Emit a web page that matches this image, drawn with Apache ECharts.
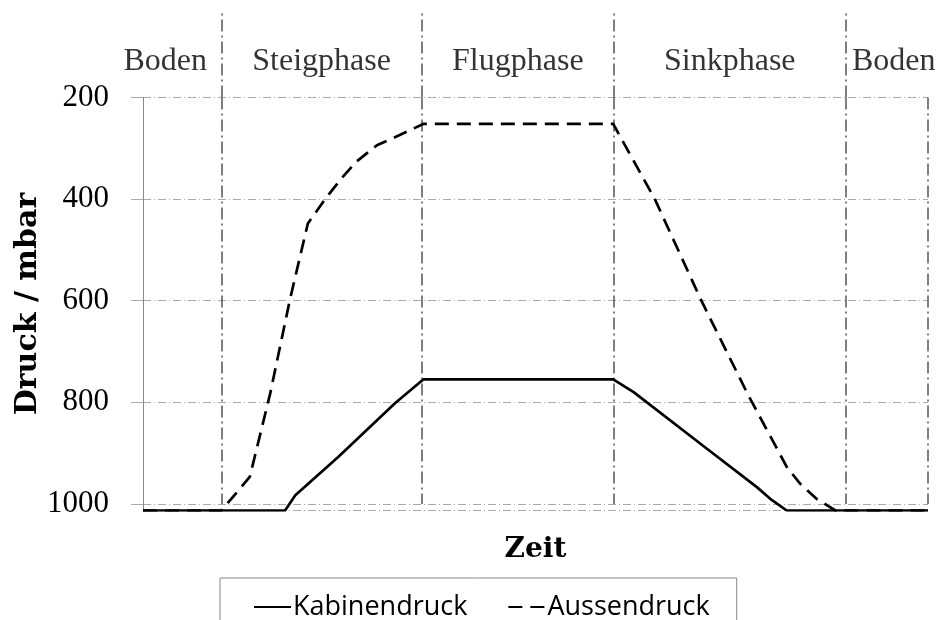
<!DOCTYPE html>
<html>
<head>
<meta charset="utf-8">
<script src="https://cdn.jsdelivr.net/npm/echarts@6/dist/echarts.min.js"></script>
<style>
  html, body { margin: 0; padding: 0; background: #fff; }
  #chart { width: 940px; height: 620px; }
</style>
</head>
<body>
<div id="chart"></div>
<script>
// Zeitachse (willkuerliche Einheiten 0..100)
var timeKabine  = [0, 18.1, 19.4, 24.9, 32.1, 35.7, 59.9, 62.5, 71.8, 78.2, 79.9, 82.0, 100];
var druckKabine = [1013, 1013, 983, 907, 802, 755, 755, 780, 891, 967, 990, 1013, 1013];

var timeAussen  = [0, 10.0, 13.6, 16.2, 18.7, 21.0, 23.2, 25.3, 27.2, 29.8, 32.7, 35.7, 59.9, 65.2, 71.1, 77.1, 80.3, 82.0, 83.7, 85.8, 88.2, 100];
var druckAussen = [1013, 1013, 947, 783, 599, 448, 400, 359, 326, 294, 274, 252, 252, 400, 599, 786, 878, 927, 960, 990, 1013, 1013];

// Phasen
var phaseNames  = ['Boden', 'Steigphase', 'Flugphase', 'Sinkphase', 'Boden'];
var phaseBounds = [10, 35.5, 60, 89.5];

var yTicks = [200, 400, 600, 800, 1000];

var zip = function (xs, ys) { return xs.map(function (x, i) { return [x, ys[i]]; }); };

var serif = 'Liberation Serif';
var sepStyle = { color: '#555', width: 1.5, type: [12, 4, 2, 4] };

// Mitten der Phasen fuer die Beschriftung
var edges = [0].concat(phaseBounds, [100]);
var phaseLabels = phaseNames.map(function (n, i) {
  var off = [0, 0];
  if (i === 0) off = [-17, 0];
  if (i === phaseNames.length - 1) off = [7, 0];
  return { name: n, value: [(edges[i] + edges[i + 1]) / 2, 0.415], label: { offset: off } };
});

var chart = echarts.init(document.getElementById('chart'));
chart.setOption({
  animation: false,
  grid: [
    { left: 143, right: 12, top: 97.5, bottom: 109.5, outerBoundsMode: 'none', containLabel: false },
    { left: 143, right: 12, top: 12, height: 85.5, outerBoundsMode: 'none', containLabel: false }
  ],
  xAxis: [
    {
      type: 'value', gridIndex: 0, min: 0, max: 100,
      axisLine: { show: false }, axisTick: { show: false },
      axisLabel: { show: false }, splitLine: { show: false },
      name: 'Zeit', nameLocation: 'middle', nameGap: 25,
      nameTextStyle: { fontFamily: 'DejaVu Serif', fontWeight: 'bold', fontSize: 28, color: '#000' }
    },
    {
      type: 'value', gridIndex: 1, min: 0, max: 100, show: false
    }
  ],
  yAxis: [
    {
      type: 'value', gridIndex: 0, inverse: true,
      min: 200, max: 1013, interval: 200,
      axisLine: { show: true, lineStyle: { color: '#888', width: 1 } },
      axisTick: { show: true, length: 12, lineStyle: { color: '#aaa' } },
      axisLabel: {
        margin: 34, fontFamily: serif, fontSize: 31, color: '#000',
        showMaxLabel: false,
        formatter: function (v) { return yTicks.indexOf(v) >= 0 ? String(v) : ''; }
      },
      splitLine: { show: true, lineStyle: { color: '#aaa', width: 1, type: [8, 3, 1, 3] } },
      name: 'Druck / mbar', nameLocation: 'middle', nameGap: 100, nameRotate: 90,
      nameMoveOverlap: false,
      nameTextStyle: { fontFamily: 'DejaVu Serif', fontWeight: 'bold', fontSize: 30, color: '#000' }
    },
    {
      type: 'value', gridIndex: 1, min: 0, max: 1, show: false
    }
  ],
  legend: {
    data: ['Kabinendruck', 'Aussendruck'],
    left: 220, top: 578,
    orient: 'horizontal',
    padding: [14, 27, 30, 33],
    borderColor: '#888', borderWidth: 1,
    itemWidth: 37, itemHeight: 14, itemGap: 40,
    itemStyle: { opacity: 0 },
    textStyle: { fontFamily: 'Open Sans', fontSize: 27, color: '#000', lineHeight: 30, padding: [0, 0, 0, -3] }
  },
  series: [
    {
      name: 'Kabinendruck', type: 'line', xAxisIndex: 0, yAxisIndex: 0,
      data: zip(timeKabine, druckKabine),
      symbol: 'none', silent: true, z: 5,
      lineStyle: { color: '#000', width: 2.7, type: 'solid' },
      itemStyle: { color: '#000' },
      markLine: {
        silent: true, symbol: ['none', 'none'], label: { show: false },
        lineStyle: sepStyle, z: 1,
        data: phaseBounds.concat([100]).map(function (b) {
          return [{ coord: [b, 200] }, { coord: [b, 1000] }];
        })
      }
    },
    {
      name: 'Aussendruck', type: 'line', xAxisIndex: 0, yAxisIndex: 0,
      data: zip(timeAussen, druckAussen),
      symbol: 'none', silent: true, z: 5,
      lineStyle: { color: '#000', width: 2.7, type: [14, 8] },
      itemStyle: { color: '#000' }
    },
    {
      name: 'Phasen', type: 'scatter', xAxisIndex: 1, yAxisIndex: 1,
      symbolSize: 0, silent: true,
      data: phaseLabels,
      label: {
        show: true, position: 'inside', formatter: '{b}',
        fontFamily: serif, fontSize: 32, color: '#000'
      },
      markLine: {
        silent: true, symbol: ['none', 'none'], label: { show: false },
        lineStyle: sepStyle,
        data: phaseBounds.map(function (b) { return { xAxis: b }; })
      }
    }
  ]
});
</script>
</body>
</html>
